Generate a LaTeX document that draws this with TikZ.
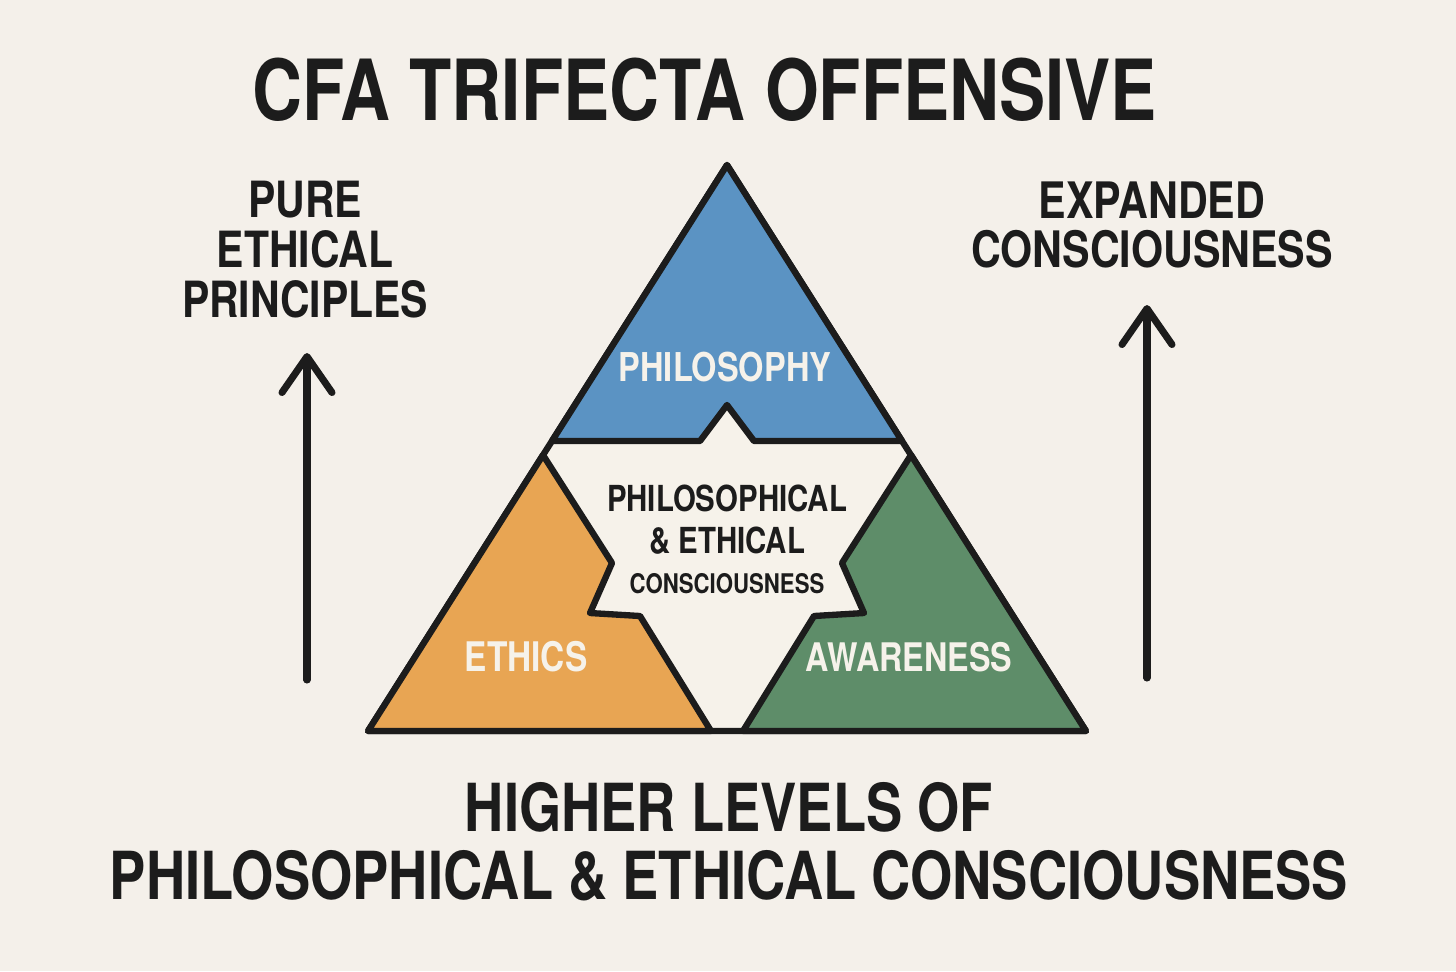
\documentclass[tikz,border=0pt]{standalone}
\usepackage{fontspec}
\setmainfont{TeX Gyre Heros}[FakeStretch=0.82]
\usetikzlibrary{arrows.meta}
\definecolor{paper}{HTML}{F4F0EA}
\definecolor{ink}{HTML}{1C1C1C}
\definecolor{sky}{HTML}{5B93C3}
\definecolor{amber}{HTML}{E8A553}
\definecolor{sage}{HTML}{5E8D69}
\definecolor{cream}{HTML}{F6F2EA}

\begin{document}
\begin{tikzpicture}[x=0.1mm,y=-0.1mm,
      piece/.style={draw=ink,line width=1.8pt,line join=round},
      label/.style={align=center,inner sep=0pt,text=ink,font=\bfseries},
      inner/.style={inner sep=0pt,text=cream,font=\bfseries},
      rise/.style={draw=ink,line width=2pt,line cap=round,
                   -{Straight Barb[round,length=3.6mm,width=5mm]}}]
    \fill[paper] (0,0) rectangle (1456,971);
    \useasboundingbox (0,0) rectangle (1456,971);
    \node[label,font=\bfseries\fontsize{24}{26}\selectfont] (title) at (705,90) {CFA TRIFECTA OFFENSIVE};
    % triangle
    \draw[piece,fill=cream] (727,165) -- (368,731) -- (1086,731) -- cycle;
    \draw[piece,fill=sky] (727,165) -- (552,441) -- (700,441) -- (727,405) -- (754,441) -- (902,441) -- cycle;
    \draw[piece,fill=amber] (543,455) -- (368,731) -- (711,731) -- (640,616) -- (590,613) -- (612,563) -- cycle;
    \draw[piece,fill=sage] (911,455) -- (1086,731) -- (743,731) -- (814,616) -- (864,613) -- (842,563) -- cycle;
    \node[inner,font=\bfseries\fontsize{11.3}{13}\selectfont] (philo) at (725,367) {PHILOSOPHY};
    \node[inner,font=\bfseries\fontsize{11.6}{13}\selectfont] (ethics) at (526,657) {ETHICS};
    \node[inner,font=\bfseries\fontsize{11.2}{13}\selectfont] (aware) at (909,657) {AWARENESS};
    \node[label,font=\bfseries\fontsize{10.2}{12.2}\selectfont] (core) at (727,539)
      {PHILOSOPHICAL\\\& ETHICAL\\[-1pt]{\fontsize{7.7}{9}\selectfont CONSCIOUSNESS}};
    % side labels
    \node[label,font=\bfseries\fontsize{14.2}{14.2}\selectfont] (pure) at (305,250) {PURE\\ETHICAL\\PRINCIPLES};
    \node[label,font=\bfseries\fontsize{14.3}{14.2}\selectfont] (expand) at (1152,225) {EXPANDED\\CONSCIOUSNESS};
    \coordinate (lfoot) at (307,680);
    \coordinate (ltop) at (307,353);
    \coordinate (rfoot) at (1147,678);
    \coordinate (rtop) at (1147,305);
    \draw[rise] (lfoot) -- (ltop);
    \draw[rise] (rfoot) -- (rtop);
    \node[label,font=\bfseries\fontsize{18.85}{19.3}\selectfont] (higher) at (729,842)
      {HIGHER LEVELS OF\\PHILOSOPHICAL \& ETHICAL CONSCIOUSNESS};
\end{tikzpicture}
\end{document}
